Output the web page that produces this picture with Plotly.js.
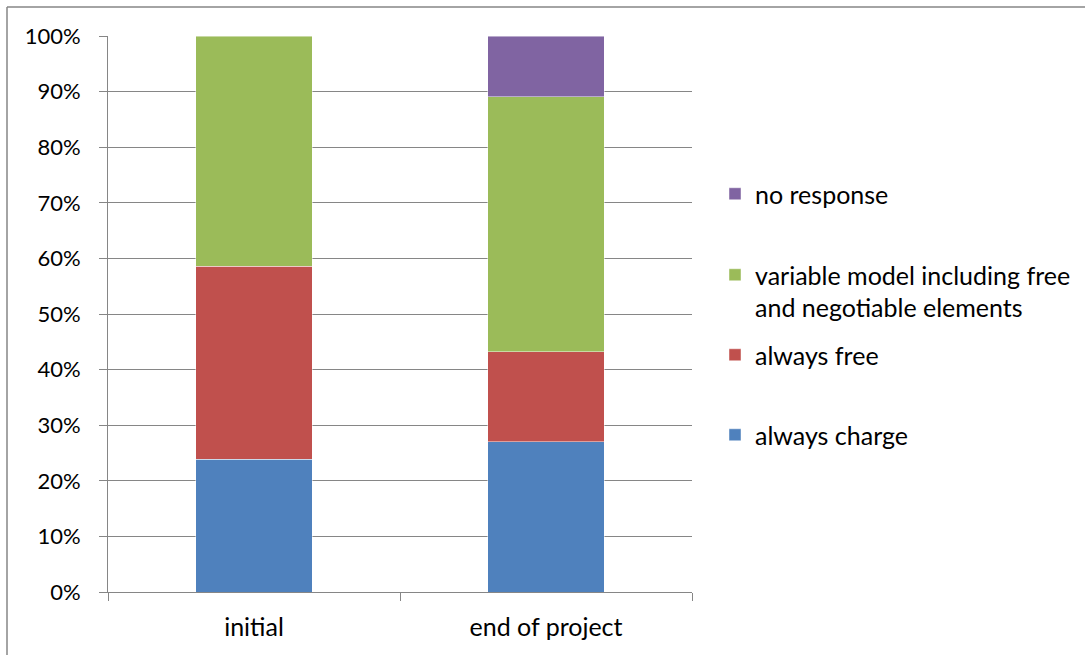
<!DOCTYPE html>
<html>
<head>
<meta charset="utf-8">
<script src="https://cdn.plot.ly/plotly-3.0.1.min.js"></script>
<style>
  html, body { margin: 0; padding: 0; background: #fff; }
  #chart { width: 1085px; height: 655px; }
</style>
</head>
<body>
<div id="chart"></div>
<script>
const categories = ['initial', 'end of project'];
const alwaysCharge = [0.239, 0.270];
const alwaysFree = [0.347, 0.162];
const variableModel = [0.414, 0.459];
const noResponse = [null, 0.109];

const seriesNames = ['always charge', 'always free', 'variable model including free<br>and negotiable elements', 'no response'];
const seriesColors = ['#4F81BD', '#C0504D', '#9BBB59', '#8064A2'];
const seriesValues = [alwaysCharge, alwaysFree, variableModel, noResponse];
const legendIds = ['legend', 'legend2', 'legend3', 'legend4'];

const FONT = 'Lato, "Open Sans", sans-serif';

const traces = seriesValues.map((vals, i) => ({
  type: 'bar',
  x: categories,
  y: vals,
  name: seriesNames[i],
  marker: { color: seriesColors[i], line: { color: 'rgba(255,255,255,0.45)', width: 1 } },
  legend: legendIds[i],
  hoverinfo: 'x+y+name'
}));

const W = 1085, H = 655;
const legX = 715 / W;
function legendCfg(yPx, valign) {
  return {
    x: legX, xref: 'container', xanchor: 'left',
    y: 1 - yPx / H, yref: 'container', yanchor: 'top',
    bgcolor: 'rgba(0,0,0,0)', borderwidth: 0,
    font: { family: FONT, size: 25, color: '#000' },
    valign: valign || 'middle',
    itemclick: false, itemdoubleclick: false
  };
}

const layout = {
  width: W, height: H,
  margin: { l: 108, r: 393, t: 36, b: 63, pad: 0 },
  paper_bgcolor: '#fff',
  plot_bgcolor: '#fff',
  barmode: 'stack',
  bargap: 0.6,
  font: { family: FONT, size: 22, color: '#000' },
  showlegend: true,
  legend: legendCfg(412),
  legend2: legendCfg(332),
  legend3: legendCfg(252, 'top'),
  legend4: legendCfg(171),
  xaxis: {
    type: 'category',
    showgrid: false,
    showline: true, linecolor: '#868686', linewidth: 1,
    ticks: 'outside', tickson: 'boundaries', ticklen: 8, tickcolor: '#868686', tickwidth: 1,
    tickfont: { family: FONT, size: 25, color: '#000' },
    ticklabelstandoff: 13,
    zeroline: false, fixedrange: true
  },
  yaxis: {
    range: [0, 1],
    dtick: 0.1, tick0: 0,
    tickformat: '.0%',
    showgrid: true, gridcolor: '#868686', gridwidth: 1.2,
    showline: true, linecolor: '#868686', linewidth: 1,
    ticks: 'outside', ticklen: 8, tickcolor: '#868686', tickwidth: 1,
    tickfont: { family: FONT, size: 22, color: '#000' },
    ticklabelstandoff: 14,
    zeroline: false, fixedrange: true
  },
  shapes: [
    { type: 'line', xref: 'paper', yref: 'paper',
      x0: (7 - 108) / 584, x1: (1100 - 108) / 584, y0: (592 - 7) / 556, y1: (592 - 7) / 556,
      line: { color: '#868686', width: 1.5 } },
    { type: 'line', xref: 'paper', yref: 'paper',
      x0: (7 - 108) / 584, x1: (7 - 108) / 584, y0: (592 - 7) / 556, y1: (592 - 670) / 556,
      line: { color: '#868686', width: 1.5 } }
  ]
};

Plotly.newPlot('chart', traces, layout, { displayModeBar: false });
</script>
</body>
</html>
